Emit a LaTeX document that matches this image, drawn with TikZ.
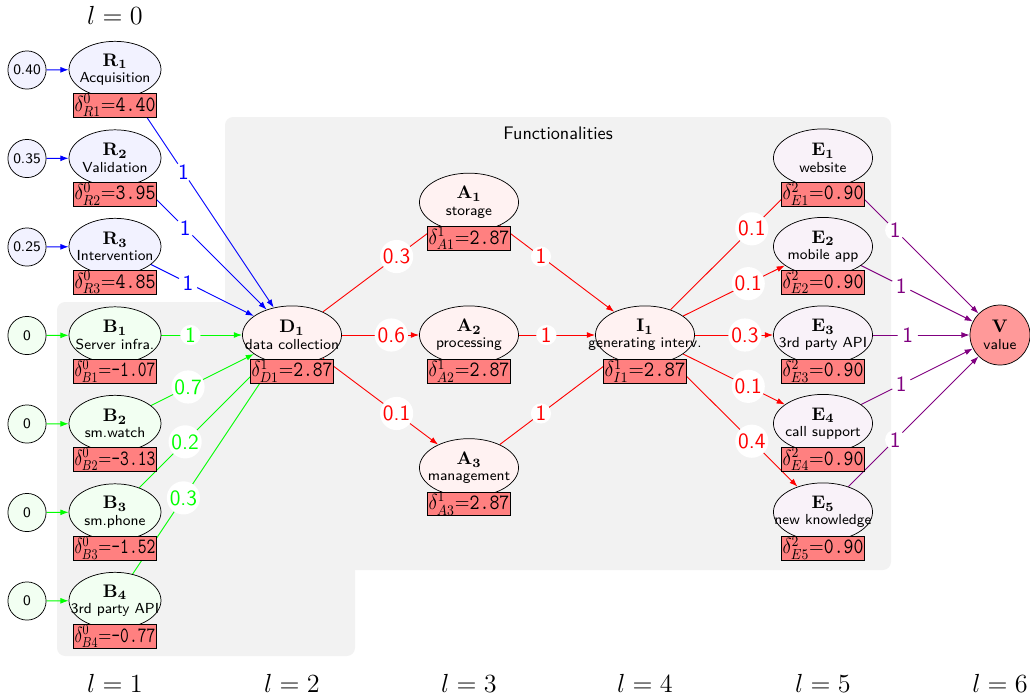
\documentclass[tikz,border=0pt]{standalone}
\usepackage{graphicx}
\usetikzlibrary{shapes.geometric,arrows.meta}
\pgfdeclarelayer{bg}
\pgfdeclarelayer{edges}
\pgfsetlayers{bg,edges,main}
\newcommand{\ntxt}[2]{\makebox[0pt]{$\mathbf{#1}$}\\[-3pt]\makebox[0pt]{\footnotesize #2}}
\newcommand{\dtx}[3]{\resizebox{44.5pt}{\height}{\large$\delta^{#1}_{#2}{=}$\texttt{#3}}}
\begin{document}
\begin{tikzpicture}[x=0.55pt,y=-0.55pt,
  >={Latex[length=4.5pt,width=3.2pt]},
  every node/.style={font=\sffamily},
  inp/.style={circle,draw,minimum size=21pt,inner sep=0pt,font=\sffamily\footnotesize},
  ell/.style={ellipse,draw,inner sep=0pt,align=center,minimum width=54.5pt,minimum height=32pt},
  ells/.style={ell,minimum width=50.6pt,minimum height=31pt},
  dbox/.style={rectangle,draw,fill=red!50,minimum width=45.6pt,minimum height=12.7pt,inner sep=0.3pt},
  elab/.style={circle,fill=white,inner sep=0.4pt,font=\sffamily\large},
  conn/.style={->,line width=0.5pt},
  lev/.style={font=\Large}
]
\useasboundingbox (0,0) rectangle (1030,699);
\begin{pgfonlayer}{bg}
\fill[black!5,rounded corners=4.5pt] (225,117) rectangle (891,570);
\fill[black!5,rounded corners=4.5pt] (57,302) rectangle (355,656);
\end{pgfonlayer}

\node (fun) at (558,133) {Functionalities};

% level labels
\node[lev] (l0) at (115,15) {$l=0$};
\node[lev] (l1) at (115,683) {$l=1$};
\node[lev] (l2) at (292,683) {$l=2$};
\node[lev] (l3) at (469,683) {$l=3$};
\node[lev] (l4) at (645,683) {$l=4$};
\node[lev] (l5) at (823,683) {$l=5$};
\node[lev] (l6) at (1000,683) {$l=6$};

% inputs
\node[inp,fill=blue!5] (i1) at (27,70) {0.40};
\node[inp,fill=blue!5] (i2) at (27,158.5) {0.35};
\node[inp,fill=blue!5] (i3) at (27,247) {0.25};
\node[inp,fill=green!5] (i4) at (27,335.5) {0};
\node[inp,fill=green!5] (i5) at (27,424) {0};
\node[inp,fill=green!5] (i6) at (27,512.5) {0};
\node[inp,fill=green!5] (i7) at (27,601) {0};

% layer 1
\node[ells,fill=blue!5] (R1) at (115,69.5) {\ntxt{R_1}{Acquisition}};
\node[ells,fill=blue!5] (R2) at (115,158) {\ntxt{R_2}{Validation}};
\node[ells,fill=blue!5] (R3) at (115,246.5) {\ntxt{R_3}{Intervention}};
\node[ells,fill=green!5] (B1) at (115,335) {\ntxt{B_1}{Server infra.}};
\node[ells,fill=green!5] (B2) at (115,423.5) {\ntxt{B_2}{sm.watch}};
\node[ells,fill=green!5] (B3) at (115,512) {\ntxt{B_3}{sm.phone}};
\node[ells,fill=green!5] (B4) at (115,600.5) {\ntxt{B_4}{3rd party API}};
\node[dbox] (dR1) at (115,105.5) {\dtx{0}{R1}{4.40}};
\node[dbox] (dR2) at (115,194) {\dtx{0}{R2}{3.95}};
\node[dbox] (dR3) at (115,282.5) {\dtx{0}{R3}{4.85}};
\node[dbox] (dB1) at (115,371) {\dtx{0}{B1}{-1.07}};
\node[dbox] (dB2) at (115,459.5) {\dtx{0}{B2}{-3.13}};
\node[dbox] (dB3) at (115,548) {\dtx{0}{B3}{-1.52}};
\node[dbox] (dB4) at (115,636.5) {\dtx{0}{B4}{-0.77}};

% layer 2
\node[ell,fill=red!5] (D1) at (292,335) {\ntxt{D_1}{data collection}};
\node[dbox] (dD1) at (292,371) {\dtx{1}{D1}{2.87}};

% layer 3
\node[ell,fill=red!5] (A1) at (469,202.25) {\ntxt{A_1}{storage}};
\node[ell,fill=red!5] (A2) at (469,335) {\ntxt{A_2}{processing}};
\node[ell,fill=red!5] (A3) at (469,467.75) {\ntxt{A_3}{management}};
\node[dbox] (dA1) at (469,238.25) {\dtx{1}{A1}{2.87}};
\node[dbox] (dA2) at (469,371) {\dtx{1}{A2}{2.87}};
\node[dbox] (dA3) at (469,503.75) {\dtx{1}{A3}{2.87}};

% layer 4
\node[ell,fill=red!5] (I1) at (645,335) {\ntxt{I_1}{generating interv.}};
\node[dbox] (dI1) at (645,371) {\dtx{1}{I1}{2.87}};

% layer 5
\node[ell,fill=violet!5] (E1) at (823,158) {\ntxt{E_1}{website}};
\node[ell,fill=violet!5] (E2) at (823,246.5) {\ntxt{E_2}{mobile app}};
\node[ell,fill=violet!5] (E3) at (823,335) {\ntxt{E_3}{3rd party API}};
\node[ell,fill=violet!5] (E4) at (823,423.5) {\ntxt{E_4}{call support}};
\node[ell,fill=violet!5] (E5) at (823,512) {\ntxt{E_5}{new knowledge}};
\node[dbox] (dE1) at (823,194) {\dtx{2}{E1}{0.90}};
\node[dbox] (dE2) at (823,282.5) {\dtx{2}{E2}{0.90}};
\node[dbox] (dE3) at (823,371) {\dtx{2}{E3}{0.90}};
\node[dbox] (dE4) at (823,459.5) {\dtx{2}{E4}{0.90}};
\node[dbox] (dE5) at (823,548) {\dtx{2}{E5}{0.90}};

% layer 6
\node[circle,draw,fill=red!40,minimum size=33pt,inner sep=0pt,align=center] (V) at (1000,335) {\ntxt{V}{value}};

\begin{pgfonlayer}{edges}
\foreach \s/\t in {i1/R1,i2/R2,i3/R3} \draw[conn,blue] (\s) -- (\t);
\foreach \s/\t in {i4/B1,i5/B2,i6/B3,i7/B4} \draw[conn,green] (\s) -- (\t);
\foreach \s in {R1,R2,R3} \draw[conn,blue] (\s) -- node[elab,pos=.36]{1} (D1);
\foreach \s/\w in {B1/1,B2/0.7,B3/0.2,B4/0.3} \draw[conn,green] (\s) -- node[elab,pos=.36]{\w} (D1);
\foreach \t/\w in {A1/0.3,A2/0.6,A3/0.1} \draw[conn,red] (D1) -- node[elab,pos=.64]{\w} (\t);
\foreach \s in {A1,A2,A3} \draw[conn,red] (\s) -- node[elab,pos=.36]{1} (I1);
\foreach \t/\w in {E1/0.1,E2/0.1,E3/0.3,E4/0.1,E5/0.4} \draw[conn,red] (I1) -- node[elab,pos=.64]{\w} (\t);
\foreach \s in {E1,E2,E3,E4,E5} \draw[conn,violet] (\s) -- node[elab,pos=.36]{1} (V);
\end{pgfonlayer}
\end{tikzpicture}
\end{document}
